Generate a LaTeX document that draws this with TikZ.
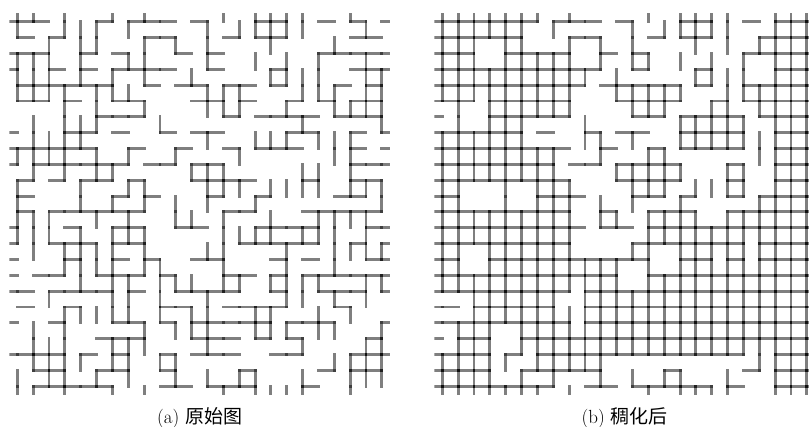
\documentclass[tikz,border=0pt]{standalone}
\usepackage{fontspec}
\newfontfamily\cjkfont{Noto Sans CJK SC}

% lattice geometry (picture units are pixels of the original figure)
\newcommand\lstep{15.85}
\newcommand\ltop{21.7}
\newcount\bondi
% one row of horizontal bonds: x of column 0, row index, 24 bits
\newcommand\hbonds[3]{\bondi=0 \def\bx{#1}\def\by{#2}\expandafter\hbondsloop#3\relax}
\def\hbondsloop#1{%
  \ifx#1\relax\else
    \if#11%
      \draw[bond] ({\bx+\the\bondi*\lstep},{\ltop+\by*\lstep}) -- ++(\lstep,0);%
      \ifnum\bondi=23 \draw[bond] ({\bx-\lstep},{\ltop+\by*\lstep}) -- ++(\lstep,0);\fi
    \fi
    \advance\bondi by 1
    \expandafter\hbondsloop
  \fi}
% one row of vertical bonds (row j to row j+1)
\newcommand\vbonds[3]{\bondi=0 \def\bx{#1}\def\by{#2}\expandafter\vbondsloop#3\relax}
\def\vbondsloop#1{%
  \ifx#1\relax\else
    \if#11%
      \draw[bond] ({\bx+\the\bondi*\lstep},{\ltop+\by*\lstep}) -- ++(0,\lstep);%
      \ifnum\by=23 \draw[bond] ({\bx+\the\bondi*\lstep},{\ltop-\lstep}) -- ++(0,\lstep);\fi
    \fi
    \advance\bondi by 1
    \expandafter\vbondsloop
  \fi}

\begin{document}
\begin{tikzpicture}[x=1pt, y=-1pt,
    bond/.style={line width=2.9pt, draw=black, draw opacity=0.5, line cap=rect},
    caption/.style={inner sep=0pt, font=\fontsize{19}{22}\selectfont}]
  \useasboundingbox (0,0) rectangle (809,426);
  % --- (a) original lattice ---
  \begin{scope}
    \clip (9.4,13.8) rectangle (389.8,394.2);
    \foreach \bits [count=\j from 0] in {
        110001 011101 000110 010101, 101000 001100 010110 000110,
        110010 100010 100000 011111, 001010 111100 100010 000111,
        111111 001011 011010 001010, 110100 110001 101001 010110,
        000001 110000 010111 101110, 000110 100101 100001 100101,
        111110 010010 010111 000101, 011111 101101 100000 000111,
        101011 010001 111000 100110, 100000 101000 100100 001100,
        101111 110000 011000 111110, 000100 110011 000111 100011,
        001110 110000 001111 100101, 000100 101001 100010 100011,
        011001 110100 011010 111111, 101111 010011 110010 011101,
        100100 000110 011110 001000, 001000 110101 111101 110001,
        000001 110001 110101 000010, 111010 100101 110011 000111,
        011001 100100 001000 010110, 011111 000110 111000 100000}
      {\hbonds{17.3}{\j}{\bits}}
    \foreach \bits [count=\j from 0] in {
        100111 010000 101111 100010, 001011 001010 100010 001000,
        111010 011000 100101 010010, 111010 101001 000011 110011,
        111101 110000 111000 111011, 000101 001000 111001 001111,
        010111 000100 000000 100001, 011110 000000 100111 011100,
        111101 010010 001000 001100, 010101 100001 110000 110100,
        100010 011000 111011 110111, 100010 101010 100100 000001,
        111001 010011 010010 011110, 111010 111000 011110 111010,
        010111 101000 110001 001111, 000111 101100 010001 001000,
        000010 110111 011011 110011, 001000 110100 100001 101010,
        000111 110101 100110 010100, 010100 001011 100111 011001,
        011100 111000 100000 100011, 011110 110110 000000 001111,
        101101 010010 101100 100111, 110100 101000 010111 100100}
      {\vbonds{17.3}{\j}{\bits}}
  \end{scope}
  % --- (b) lattice after densification ---
  \begin{scope}
    \clip (434.4,13.8) rectangle (814.8,394.2);
    \foreach \bits [count=\j from 0] in {
        111111 011101 000110 010111, 111110 001100 010110 001111,
        110011 110010 100000 011111, 111111 111100 100010 000111,
        111111 111011 111010 011111, 110111 110001 111001 011111,
        000111 110000 110111 101111, 111110 100101 100111 100111,
        111111 110010 010111 100111, 111111 101101 111000 100111,
        111111 110001 111000 100111, 100000 111000 110100 101111,
        111111 110010 011100 111111, 111111 111011 011111 111111,
        111111 110000 111111 101111, 100111 111111 100110 101111,
        111111 111110 011111 111111, 111111 110111 111111 111111,
        101111 100111 111111 111111, 111111 110111 111111 111111,
        011001 111111 111111 111111, 111010 111111 111111 100111,
        111001 111100 001000 010111, 111111 100110 111110 100111}
      {\hbonds{442.3}{\j}{\bits}}
    \foreach \bits [count=\j from 0] in {
        111111 010000 101111 100111, 111011 001010 100010 101111,
        111011 111010 110101 010111, 111111 111101 000011 110111,
        111111 111001 111100 111111, 010111 111000 111001 101111,
        010111 000100 000111 110111, 111111 000110 100111 111111,
        111111 110010 011000 001111, 111111 110001 111100 110111,
        110010 111000 111011 110111, 110010 111010 100100 001111,
        111111 111011 011110 111111, 111111 111000 011111 111111,
        110111 111000 110111 111111, 110111 111111 010111 111111,
        111111 111111 011111 111111, 001111 110111 111111 111111,
        001111 111111 111111 111111, 011101 111111 111111 111111,
        011101 111111 111111 111111, 111110 111110 000000 001111,
        111101 010010 101100 100111, 111111 101000 010111 100111}
      {\vbonds{442.3}{\j}{\bits}}
  \end{scope}
  % --- captions ---
  \node[caption] (capa) at (199.6,418) {(a) {\cjkfont 原始图}};
  \node[caption] (capb) at (624.6,418) {(b) {\cjkfont 稠化后}};
\end{tikzpicture}
\end{document}
